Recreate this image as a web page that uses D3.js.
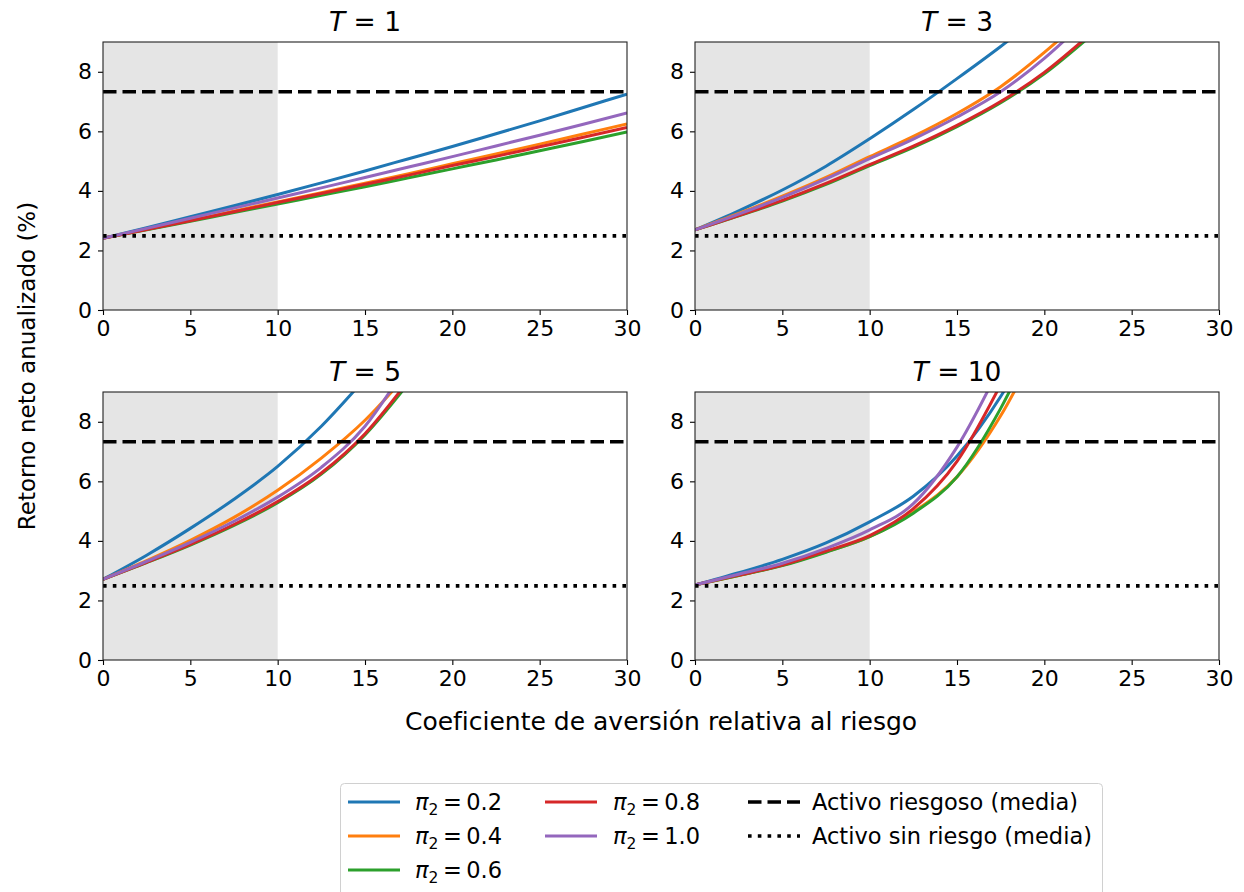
<!DOCTYPE html>
<html lang="es">
<head>
<meta charset="UTF-8">
<title>Retorno neto anualizado</title>
<style>
  body { margin: 0; background: #fff; }
  text { font-family: "DejaVu Sans", sans-serif; fill: #000; }
</style>
</head>
<body>
<script src="https://d3js.org/d3.v7.min.js"></script>
<div id="my_dataviz"></div>

<script>
// risk aversion grid (x values shared by every series)
var gamma = [0, 2.5, 5, 7.5, 10, 12.5, 15, 17.5, 20, 22.5, 25, 27.5, 30];
var xTicks = [0, 5, 10, 15, 20, 25, 30];
var yTicks = [0, 2, 4, 6, 8];
var horizons = ["1", "3", "5", "10"];
var piLabels = ["0.2", "0.4", "0.6", "0.8", "1.0"];
var riskyMean = 7.33;
var riskFreeMean = 2.49;
var shadeRange = [0, 10];

// annualised net return (%) per pi_2, read at each gamma (series stop once off the top)
var retT1 = [
  [2.41, 2.76, 3.13, 3.50, 3.88, 4.27, 4.67, 5.08, 5.49, 5.92, 6.35, 6.80, 7.25],
  [2.41, 2.71, 3.01, 3.32, 3.63, 3.94, 4.26, 4.58, 4.91, 5.24, 5.57, 5.91, 6.25],
  [2.41, 2.69, 2.98, 3.27, 3.56, 3.85, 4.14, 4.44, 4.74, 5.04, 5.35, 5.66, 5.98],
  [2.41, 2.70, 3.00, 3.30, 3.61, 3.91, 4.22, 4.53, 4.85, 5.16, 5.48, 5.80, 6.13],
  [2.41, 2.74, 3.08, 3.42, 3.76, 4.10, 4.45, 4.80, 5.15, 5.51, 5.87, 6.24, 6.62]
];
var retT3 = [
  [2.69, 3.33, 4.03, 4.83, 5.75, 6.73, 7.77, 8.85, 10.0],
  [2.69, 3.24, 3.82, 4.45, 5.15, 5.83, 6.60, 7.50, 8.65, 9.95],
  [2.69, 3.16, 3.66, 4.22, 4.85, 5.46, 6.16, 6.96, 7.93, 9.13],
  [2.69, 3.17, 3.68, 4.25, 4.88, 5.50, 6.20, 7.00, 7.98, 9.20],
  [2.69, 3.22, 3.78, 4.40, 5.08, 5.74, 6.48, 7.33, 8.45, 9.80]
];
var retT5 = [
  [2.71, 3.52, 4.42, 5.40, 6.50, 7.85, 9.45],
  [2.71, 3.34, 4.02, 4.79, 5.70, 6.78, 8.05, 9.65],
  [2.71, 3.27, 3.86, 4.52, 5.28, 6.24, 7.56, 9.30],
  [2.71, 3.28, 3.88, 4.55, 5.32, 6.28, 7.60, 9.40],
  [2.71, 3.31, 3.95, 4.66, 5.47, 6.47, 7.85, 10.0]
];
var retT10 = [
  [2.52, 2.93, 3.38, 3.93, 4.64, 5.50, 6.85, 8.85, 11.5],
  [2.52, 2.84, 3.18, 3.63, 4.14, 4.97, 6.15, 8.20, 11.0],
  [2.52, 2.84, 3.17, 3.62, 4.14, 4.93, 6.15, 8.45, 11.5],
  [2.52, 2.85, 3.19, 3.66, 4.18, 5.08, 6.67, 9.25],
  [2.52, 2.88, 3.25, 3.75, 4.37, 5.25, 7.15, 9.90]
];
var panelData = [retT1, retT3, retT5, retT10];

var colors = ["#1f77b4", "#ff7f0e", "#2ca02c", "#d62728", "#9467bd"];

var W = 1244, H = 892;
var pw = 524, ph = 268;
var panelPos = [[103, 42], [695, 42], [103, 392], [695, 392]];

var svg = d3.select("#my_dataviz")
  .append("svg")
  .attr("width", W)
  .attr("height", H)
  .style("display", "block");

var x = d3.scaleLinear().domain([0, 30]).range([0, pw]);
var y = d3.scaleLinear().domain([0, 9]).range([ph, 0]);

var line = d3.line()
  .x(function(d) { return x(d[0]); })
  .y(function(d) { return y(d[1]); })
  .curve(d3.curveMonotoneX);

panelPos.forEach(function(p, k) {
  var g = svg.append("g").attr("transform", "translate(" + p[0] + "," + p[1] + ")");

  g.append("clipPath").attr("id", "clip" + k)
    .append("rect").attr("width", pw).attr("height", ph);

  // shaded band
  g.append("rect")
    .attr("x", x(shadeRange[0]))
    .attr("width", x(shadeRange[1]) - x(shadeRange[0]))
    .attr("height", ph)
    .attr("fill", "#e5e5e5");

  var plot = g.append("g").attr("clip-path", "url(#clip" + k + ")");

  panelData[k].forEach(function(vals, i) {
    var pts = vals.map(function(v, j) { return [gamma[j], v]; });
    plot.append("path")
      .attr("d", line(pts))
      .attr("fill", "none")
      .attr("stroke", colors[i])
      .attr("stroke-width", 3);
  });

  // reference means
  plot.append("line")
    .attr("x1", 0).attr("x2", pw)
    .attr("y1", y(riskyMean)).attr("y2", y(riskyMean))
    .attr("stroke", "#000").attr("stroke-width", 3.6)
    .attr("stroke-dasharray", "13.5,6");
  plot.append("line")
    .attr("x1", 0).attr("x2", pw)
    .attr("y1", y(riskFreeMean)).attr("y2", y(riskFreeMean))
    .attr("stroke", "#000").attr("stroke-width", 3.6)
    .attr("stroke-dasharray", "3.6,6.2");

  // axes
  var xa = g.append("g").attr("transform", "translate(0," + ph + ")")
    .call(d3.axisBottom(x).tickValues(xTicks).tickSize(5).tickPadding(5));
  var ya = g.append("g")
    .call(d3.axisLeft(y).tickValues(yTicks).tickSize(5).tickPadding(6));
  [xa, ya].forEach(function(a) {
    a.select(".domain").remove();
    a.selectAll("line").attr("stroke", "#000").attr("stroke-width", 1.1);
    a.selectAll("text").style("font-size", "22px").style("font-family", "DejaVu Sans");
  });

  // frame
  g.append("rect")
    .attr("width", pw).attr("height", ph)
    .attr("fill", "none").attr("stroke", "#222").attr("stroke-width", 1.1);

  // title
  var t = g.append("text")
    .attr("x", pw / 2).attr("y", -11)
    .attr("text-anchor", "middle")
    .style("font-size", "26.5px");
  t.append("tspan").style("font-style", "italic").text("T");
  t.append("tspan").text(" = " + horizons[k]);
});

// axis labels
svg.append("text")
  .attr("transform", "translate(35,366) rotate(-90)")
  .attr("text-anchor", "middle")
  .style("font-size", "23px")
  .text("Retorno neto anualizado (%)");

svg.append("text")
  .attr("x", 661).attr("y", 730)
  .attr("text-anchor", "middle")
  .style("font-size", "25px")
  .text("Coeficiente de aversión relativa al riesgo");

// legend
var leg = svg.append("g");
leg.append("rect")
  .attr("x", 340.5).attr("y", 783.5)
  .attr("width", 762).attr("height", 140)
  .attr("rx", 4)
  .attr("fill", "#fff").attr("stroke", "#d0d0d0");

var colX = [348, 545, 748];
var textX = [415, 613, 812];
var rowY = [802, 836, 870];
var items = piLabels.map(function(lab, i) {
  return { kind: "pi", label: lab, color: colors[i], col: i < 3 ? 0 : 1, row: i < 3 ? i : i - 3 };
});
items.push({ kind: "dash", label: "Activo riesgoso (media)", col: 2, row: 0 });
items.push({ kind: "dot", label: "Activo sin riesgo (media)", col: 2, row: 1 });

items.forEach(function(d) {
  var lx = colX[d.col], ly = rowY[d.row];
  var h = leg.append("line")
    .attr("x1", lx).attr("x2", lx + 52)
    .attr("y1", ly).attr("y2", ly);
  if (d.kind === "pi") {
    h.attr("stroke", d.color).attr("stroke-width", 3);
  } else {
    h.attr("stroke", "#000").attr("stroke-width", 3.6)
      .attr("stroke-dasharray", d.kind === "dash" ? "13.5,6" : "3.6,6.2");
  }
  var t = leg.append("text")
    .attr("x", textX[d.col]).attr("y", ly + 8)
    .style("font-size", "22.5px");
  if (d.kind === "pi") {
    t.append("tspan").style("font-style", "italic").text("π");
    t.append("tspan").attr("dy", 5).style("font-size", "15.5px").text("2");
    t.append("tspan").attr("dy", -5).text("\u2009=\u2009" + d.label);
  } else {
    t.text(d.label);
  }
});
</script>
</body>
</html>
